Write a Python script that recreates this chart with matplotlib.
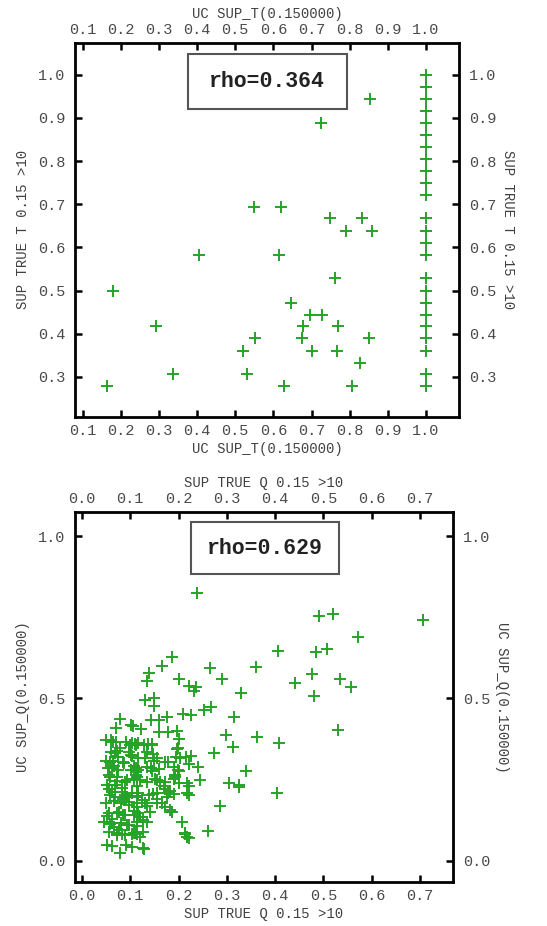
import numpy as np
import matplotlib
matplotlib.use("Agg")
import matplotlib.pyplot as plt
from matplotlib.patches import Rectangle

plt.rcParams['font.family'] = ['Liberation Mono', 'DejaVu Sans Mono']

# top panel: UC SUP_T(0.150000) vs SUP TRUE T 0.15 >10
uc_t = [1.0, 1.0, 1.0, 1.0, 1.0, 1.0, 1.0, 1.0, 1.0, 1.0, 1.0, 1.0,
        1.0, 1.0, 1.0, 1.0, 1.0, 1.0, 1.0, 1.0, 1.0, 1.0, 1.0, 1.0,
        0.55, 0.62, 0.724, 0.852, 0.748, 0.833, 0.789, 0.858, 0.404, 0.615,
        0.180, 0.762, 0.645, 0.695, 0.728, 0.293, 0.678, 0.769, 0.553, 0.676,
        0.850, 0.519, 0.700, 0.767, 0.828, 0.336, 0.532, 0.164, 0.628, 0.807]
true_t = [1.0, 0.972, 0.944, 0.917, 0.889, 0.861, 0.833, 0.806, 0.778, 0.75, 0.722, 0.667,
          0.639, 0.611, 0.583, 0.528, 0.5, 0.472, 0.444, 0.417, 0.389, 0.361, 0.306, 0.278,
          0.694, 0.694, 0.889, 0.944, 0.667, 0.667, 0.639, 0.639, 0.583, 0.583,
          0.5, 0.528, 0.472, 0.444, 0.444, 0.417, 0.417, 0.417, 0.389, 0.389,
          0.389, 0.361, 0.361, 0.361, 0.333, 0.306, 0.306, 0.278, 0.278, 0.278]
rho_t = "rho=0.364"

# bottom panel: SUP TRUE Q 0.15 >10 vs UC SUP_Q(0.150000)
pts_q = [
    (0.239, 0.824), (0.490, 0.754), (0.520, 0.759), (0.707, 0.742), (0.572, 0.688),
    (0.405, 0.647), (0.485, 0.642), (0.508, 0.651), (0.186, 0.627), (0.166, 0.600),
    (0.138, 0.579), (0.134, 0.555), (0.265, 0.593), (0.360, 0.596), (0.200, 0.559),
    (0.221, 0.538), (0.237, 0.536), (0.290, 0.559), (0.330, 0.518), (0.441, 0.547),
    (0.477, 0.575), (0.534, 0.559), (0.557, 0.536), (0.480, 0.508), (0.531, 0.402),
    (0.267, 0.473), (0.253, 0.466), (0.315, 0.443), (0.299, 0.387), (0.362, 0.380),
    (0.408, 0.362), (0.312, 0.351), (0.274, 0.332), (0.226, 0.323), (0.241, 0.288),
    (0.339, 0.278), (0.245, 0.249), (0.305, 0.239), (0.326, 0.235), (0.326, 0.227),
    (0.403, 0.209), (0.286, 0.170), (0.260, 0.092), (0.207, 0.119), (0.214, 0.084),
    (0.217, 0.073), (0.221, 0.204), (0.226, 0.448), (0.209, 0.453), (0.233, 0.522),
    (0.150, 0.500), (0.150, 0.477), (0.130, 0.494), (0.176, 0.443), (0.159, 0.433),
    (0.143, 0.433), (0.079, 0.436), (0.071, 0.410), (0.101, 0.418), (0.105, 0.415),
    (0.122, 0.407), (0.159, 0.398), (0.179, 0.398), (0.197, 0.400), (0.200, 0.374),
    (0.064, 0.367), (0.071, 0.367), (0.103, 0.364), (0.110, 0.359), (0.128, 0.357),
    (0.145, 0.357), (0.197, 0.344), (0.072, 0.339), (0.074, 0.320), (0.097, 0.334),
    (0.103, 0.323), (0.134, 0.334), (0.148, 0.329), (0.155, 0.318), (0.059, 0.303),
    (0.066, 0.293), (0.062, 0.286), (0.086, 0.303), (0.107, 0.293), (0.117, 0.281),
    (0.134, 0.288), (0.145, 0.278), (0.159, 0.283), (0.179, 0.303), (0.190, 0.288),
    (0.200, 0.278), (0.203, 0.318), (0.193, 0.257), (0.190, 0.252), (0.059, 0.257),
    (0.072, 0.247), (0.090, 0.242), (0.107, 0.252), (0.114, 0.232), (0.152, 0.252),
    (0.162, 0.242), (0.169, 0.232), (0.172, 0.221), (0.183, 0.216), (0.190, 0.206),
    (0.176, 0.196), (0.055, 0.221), (0.062, 0.211), (0.069, 0.196), (0.083, 0.211),
    (0.093, 0.196), (0.086, 0.191), (0.097, 0.181), (0.114, 0.201), (0.124, 0.186),
    (0.134, 0.170), (0.148, 0.206), (0.155, 0.191), (0.166, 0.178), (0.183, 0.157),
    (0.186, 0.150), (0.052, 0.137), (0.062, 0.130), (0.076, 0.150), (0.086, 0.140),
    (0.107, 0.155), (0.121, 0.135), (0.134, 0.119), (0.114, 0.119), (0.066, 0.104),
    (0.076, 0.094), (0.059, 0.114), (0.093, 0.109), (0.103, 0.084), (0.114, 0.084),
    (0.072, 0.079), (0.083, 0.082), (0.052, 0.048), (0.062, 0.045), (0.079, 0.024),
    (0.092, 0.048), (0.103, 0.043), (0.129, 0.038), (0.222, 0.297), (0.222, 0.232),
    (0.222, 0.069), (0.050, 0.372), (0.061, 0.372), (0.092, 0.367), (0.099, 0.357),
    (0.112, 0.357), (0.061, 0.336), (0.068, 0.331), (0.078, 0.347), (0.102, 0.326),
    (0.116, 0.316), (0.050, 0.306), (0.064, 0.306), (0.088, 0.301), (0.054, 0.285),
    (0.075, 0.280), (0.102, 0.280), (0.112, 0.275), (0.199, 0.347), (0.116, 0.362),
    (0.137, 0.359), (0.144, 0.359), (0.195, 0.321), (0.216, 0.321), (0.130, 0.316),
    (0.150, 0.306), (0.171, 0.303), (0.112, 0.285), (0.143, 0.285), (0.199, 0.280),
    (0.055, 0.265), (0.073, 0.259), (0.093, 0.249), (0.111, 0.265), (0.121, 0.249),
    (0.052, 0.234), (0.069, 0.234), (0.083, 0.224), (0.090, 0.203), (0.104, 0.208),
    (0.114, 0.198), (0.059, 0.203), (0.049, 0.178), (0.066, 0.183), (0.080, 0.178),
    (0.097, 0.172), (0.114, 0.167), (0.055, 0.147), (0.073, 0.147), (0.090, 0.142),
    (0.107, 0.142), (0.121, 0.136), (0.045, 0.121), (0.062, 0.116), (0.080, 0.116),
    (0.097, 0.111), (0.114, 0.106), (0.055, 0.090), (0.073, 0.085), (0.090, 0.080),
    (0.107, 0.085), (0.121, 0.075), (0.113, 0.259), (0.134, 0.244), (0.155, 0.249),
    (0.172, 0.244), (0.193, 0.265), (0.200, 0.239), (0.217, 0.239), (0.217, 0.208),
    (0.117, 0.208), (0.138, 0.203), (0.155, 0.208), (0.179, 0.208), (0.113, 0.178),
    (0.131, 0.178), (0.155, 0.178), (0.172, 0.167), (0.186, 0.152), (0.117, 0.147),
    (0.141, 0.152), (0.127, 0.126), (0.110, 0.085), (0.127, 0.090), (0.213, 0.085),
    (0.127, 0.039),
]
true_q = [p[0] for p in pts_q]
uc_q = [p[1] for p in pts_q]
rho_q = "rho=0.629"

green = '#26a326'
tick_col = '#4a4a4a'
lab_col = '#404040'


def style(ax, xticks, yticks, xlab, ylab, xlim, ylim):
    ax.set_xlim(*xlim)
    ax.set_ylim(*ylim)
    ax.set_xticks(xticks)
    ax.set_yticks(yticks)
    ax.set_xticklabels(['%.1f' % v for v in xticks])
    ax.set_yticklabels(['%.1f' % v for v in yticks])
    for s in ax.spines.values():
        s.set_linewidth(2.0)
    ax.tick_params(direction='in', length=5, width=1.8, labelsize=11,
                   labelcolor=tick_col, pad=5)
    ax.tick_params(axis='y', pad=7)
    ax.set_xlabel(xlab, fontsize=10, color=lab_col, labelpad=3)
    ax.set_ylabel(ylab, fontsize=10, color=lab_col, labelpad=6)

    top = ax.secondary_xaxis('top')
    top.set_xticks(xticks)
    top.set_xticklabels(['%.1f' % v for v in xticks])
    top.tick_params(direction='in', length=5, width=1.8, labelsize=11,
                    labelcolor=tick_col, pad=4)
    top.set_xlabel(xlab, fontsize=10, color=lab_col, labelpad=4)

    right = ax.secondary_yaxis('right')
    right.set_yticks(yticks)
    right.set_yticklabels(['%.1f' % v for v in yticks])
    right.tick_params(direction='in', length=5, width=1.8, labelsize=11,
                      labelcolor=tick_col, pad=7)
    right.set_ylabel(ylab, fontsize=10, color=lab_col, rotation=270, labelpad=14)


def rho_box(ax, x0, y0, x1, y1, txt):
    ax.add_patch(Rectangle((x0, y0), x1 - x0, y1 - y0, transform=ax.transAxes,
                           facecolor='white', edgecolor='#555555', lw=1.5, zorder=5))
    ax.text((x0 + x1) / 2, (y0 + y1) / 2, txt, transform=ax.transAxes,
            ha='center', va='center', fontsize=15.5, fontweight='bold',
            color='#222222', zorder=6)


fig = plt.figure(figsize=(5.47, 9.26), dpi=100)

ax1 = fig.add_axes([0.137, 0.5497, 0.702, 0.404])
ax1.plot(uc_t, true_t, '+', color=green, markersize=8, mew=1.4, linestyle='none')
style(ax1, [0.1, 0.2, 0.3, 0.4, 0.5, 0.6, 0.7, 0.8, 0.9, 1.0],
      [0.3, 0.4, 0.5, 0.6, 0.7, 0.8, 0.9, 1.0],
      'UC SUP_T(0.150000)', 'SUP TRUE T 0.15 >10', (0.08, 1.086), (0.207, 1.074))
rho_box(ax1, 0.294, 0.824, 0.708, 0.971, rho_t)

ax2 = fig.add_axes([0.137, 0.0475, 0.691, 0.3996])
ax2.plot(true_q, uc_q, '+', color=green, markersize=8, mew=1.4, linestyle='none')
style(ax2, [0.0, 0.1, 0.2, 0.3, 0.4, 0.5, 0.6, 0.7], [0.0, 0.5, 1.0],
      'SUP TRUE Q 0.15 >10', 'UC SUP_Q(0.150000)', (-0.0145, 0.768), (-0.065, 1.074))
rho_box(ax2, 0.307, 0.832, 0.698, 0.973, rho_q)

fig.savefig('out.png', dpi=100)
